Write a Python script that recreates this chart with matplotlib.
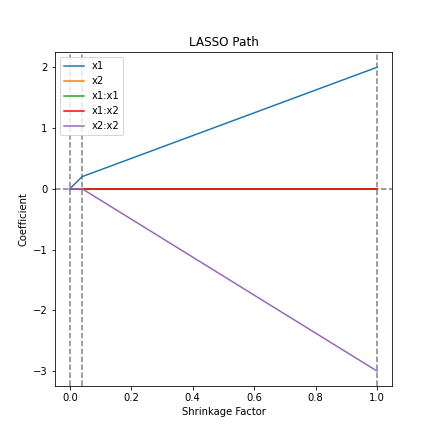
import numpy as np
import matplotlib
matplotlib.use("Agg")
import matplotlib.pyplot as plt

# shrinkage factors at the path breakpoints
shrinkage = [0.0, 0.04, 1.0]
names = ["x1", "x2", "x1:x1", "x1:x2", "x2:x2"]
coefs = {
    "x1": [0.0, 0.2, 2.0],
    "x2": [0.0, 0.0, 0.0],
    "x1:x1": [0.0, 0.0, 0.0],
    "x1:x2": [0.0, 0.0, 0.0],
    "x2:x2": [0.0, 0.0, -3.0],
}
colors = ["#1f77b4", "#ff7f0e", "#2ca02c", "red", "#9467bd"]

fig, ax = plt.subplots(figsize=(436/72, 434/72), dpi=72)

# reference lines go underneath the paths
ax.axhline(0, color="grey", linestyle="--", zorder=1)
for s in shrinkage:
    ax.axvline(s, color="grey", linestyle="--", zorder=1)

for name, c in zip(names, colors):
    ax.plot(shrinkage, coefs[name], color=c, label=name, zorder=2)

ax.set_title("LASSO Path")
ax.set_xlabel("Shrinkage Factor")
ax.set_ylabel("Coefficient")
ax.legend(loc="upper left")

fig.savefig("out.png", dpi=72)
